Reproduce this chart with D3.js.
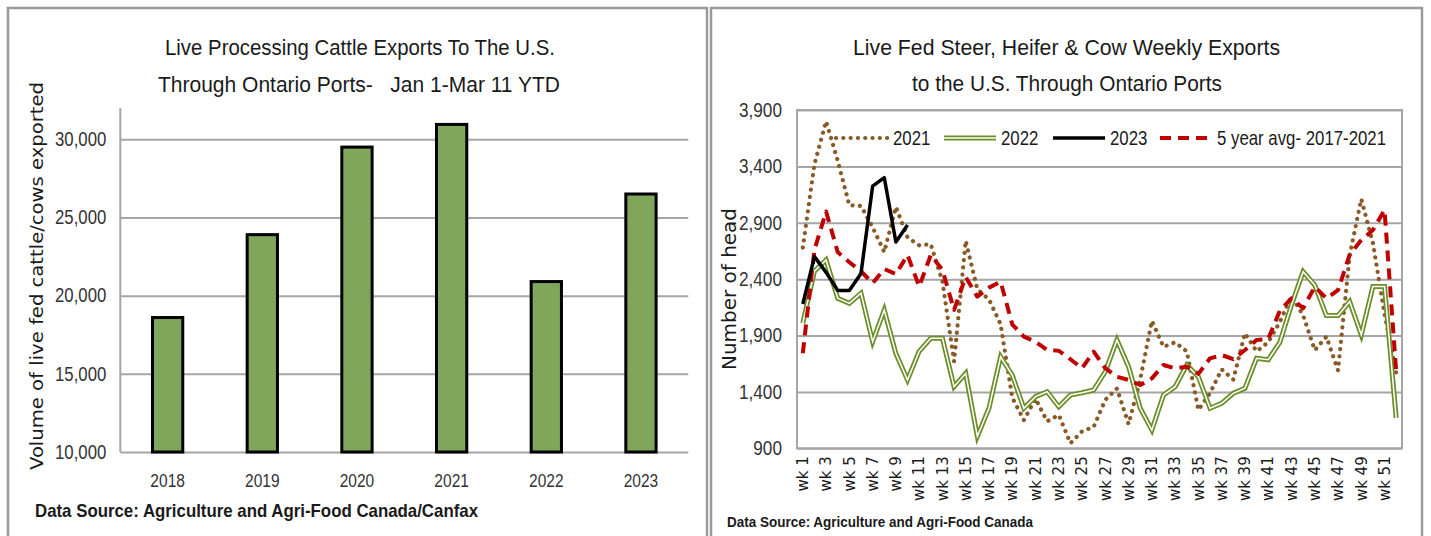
<!DOCTYPE html>
<html><head><meta charset="utf-8">
<script src="https://cdn.jsdelivr.net/npm/d3@7"></script>
<style>
html,body{margin:0;padding:0;background:#fff;}
svg{display:block;}
.sans{font-family:"Liberation Sans",Arial,sans-serif;}
.dv{font-family:"DejaVu Sans",sans-serif;}
</style></head>
<body>
<svg id="c" width="1431" height="536"></svg>
<script>
// ---------- DATA ----------
const barYears = ["2018","2019","2020","2021","2022","2023"];
const barValues = [18600, 23900, 29500, 30950, 20900, 26500];
const barTicks = [10000, 15000, 20000, 25000, 30000];

const weeks = d3.range(1, 53).map(i => "wk " + i);
const weekLabels = weeks.filter((w, i) => i % 2 === 0);
const lineTicks = [900, 1400, 1900, 2400, 2900, 3400, 3900];

const s2021 = [2680,3420,3800,3450,3055,3050,2860,2640,3040,2770,2700,2710,2380,1670,2740,2310,2220,2000,1350,1150,
               1340,1140,1195,945,1050,1090,1330,1430,1115,1510,2030,1800,1840,1760,1240,1390,1600,1510,1920,1760,
               1840,2020,2250,2080,1770,1890,1590,2610,3110,2720,2090,1570];
const s2022 = [2010,2470,2570,2230,2185,2275,1845,2126,1740,1506,1760,1875,1875,1446,1565,1005,1255,1712,1550,1255,
               1358,1402,1269,1373,1393,1417,1580,1860,1624,1255,1062,1373,1446,1639,1535,1255,1299,1388,1432,1698,
               1685,1840,2170,2466,2348,2077,2077,2201,1906,2334,2334,1168];
const s2023 = [2180,2600,2460,2300,2300,2450,3225,3300,2730,2880];
const sAvg  = [1743,2660,3000,2640,2550,2470,2365,2490,2445,2614,2335,2614,2481,2127,2420,2245,2325,2378,2000,1890,
               1845,1772,1765,1690,1610,1757,1610,1535,1506,1461,1520,1639,1609,1624,1560,1698,1727,1690,1772,1860,
               1870,2120,2230,2141,2333,2230,2303,2615,2747,2835,3013,1580];

const seriesNames = ["2021","2022","2023","5 year avg- 2017-2021"];

// ---------- SETUP ----------
const svg = d3.select("#c");
const gridCol = "#a6a6a6";
const txtCol = "#1a1a1a";
const SX = 0.86; // horizontal condense for Calibri-like look

function fit(sel, w) { return sel.attr("textLength", w).attr("lengthAdjust", "spacingAndGlyphs"); }

// panels
svg.append("rect").attr("x",8).attr("y",8).attr("width",699).attr("height",545)
  .attr("fill","#fff").attr("stroke","#9a9a9a").attr("stroke-width",2.5);
svg.append("rect").attr("x",711).attr("y",8).attr("width",711).attr("height",545)
  .attr("fill","#fff").attr("stroke","#9a9a9a").attr("stroke-width",2.5);

// ---------- LEFT BAR CHART ----------
const L = {x0:120.3, x1:688.3, y0:452, y1:108};
const xb = d3.scaleBand().domain(barYears).range([L.x0, L.x1]).padding(0);
const yb = d3.scaleLinear().domain([10000, 32000]).range([L.y0, L.y1]);

const gl = svg.append("g");
gl.append("g").attr("transform",`translate(${L.x0},0)`)
  .call(d3.axisLeft(yb).tickValues(barTicks).tickSize(-(L.x1-L.x0)).tickFormat(""))
  .call(g => g.select(".domain").remove())
  .call(g => g.selectAll("line").attr("stroke",gridCol).attr("stroke-width",2));
gl.append("line").attr("x1",L.x0).attr("x2",L.x0).attr("y1",L.y0).attr("y2",L.y1)
  .attr("stroke",gridCol).attr("stroke-width",2);
gl.append("g").attr("transform",`translate(${L.x0-14},0)`)
  .call(d3.axisLeft(yb).tickValues(barTicks).tickSize(0).tickPadding(0).tickFormat(d3.format(",")))
  .call(g => g.select(".domain").remove())
  .call(g => g.selectAll("text").attr("class","sans").attr("font-size",19.5).attr("fill","#333")
      .attr("transform",`scale(${SX},1)`));
const bw = xb.bandwidth()*0.32;
gl.selectAll("rect.bar").data(barValues).join("rect").attr("class","bar")
  .attr("x",(d,i)=>xb(barYears[i])+xb.bandwidth()/2-bw/2)
  .attr("y",d=>yb(d)).attr("width",bw).attr("height",d=>yb(10000)-yb(d))
  .attr("fill","#7fa65b").attr("stroke","#000").attr("stroke-width",3);
gl.append("g").attr("transform",`translate(0,${L.y0+22})`)
  .call(d3.axisBottom(xb).tickSize(0).tickPadding(0))
  .call(g => g.select(".domain").remove())
  .call(g => g.selectAll("text").attr("class","sans").attr("font-size",18.5).attr("fill","#333")
      .attr("dy","0.71em").attr("transform","scale(0.84,1)"));
fit(gl.append("text").attr("class","sans").attr("x",165).attr("y",55)
  .attr("font-size",22.5).attr("fill",txtCol).text("Live Processing Cattle Exports To The U.S."), 390);
fit(gl.append("text").attr("class","sans").attr("x",158).attr("y",92)
  .attr("font-size",22.5).attr("fill",txtCol).attr("xml:space","preserve").text("Through Ontario Ports-   Jan 1-Mar 11 YTD"), 402);
fit(gl.append("text").attr("class","dv").attr("transform","translate(43,470) rotate(-90)")
  .attr("font-size",18).attr("fill",txtCol)
  .text("Volume of live fed cattle/cows exported"), 388);
fit(gl.append("text").attr("class","sans").attr("x",35).attr("y",517).attr("font-size",18.5)
  .attr("font-weight","bold").attr("fill",txtCol).text("Data Source: Agriculture and Agri-Food Canada/Canfax"), 443);

// ---------- RIGHT LINE CHART ----------
const R = {x0:797, x1:1402, y0:448.3, y1:110};
const xw = d3.scaleBand().domain(weeks).range([R.x0, R.x1]).padding(0);
const yw = d3.scaleLinear().domain([900, 3900]).range([R.y0, R.y1]);
const gr = svg.append("g");

gr.append("g").attr("transform",`translate(${R.x0},0)`)
  .call(d3.axisLeft(yw).tickValues(lineTicks).tickSize(-(R.x1-R.x0)).tickFormat(""))
  .call(g => g.select(".domain").remove())
  .call(g => g.selectAll("line").attr("stroke",gridCol).attr("stroke-width",2));
gr.append("rect").attr("x",R.x0).attr("y",R.y1).attr("width",R.x1-R.x0).attr("height",R.y0-R.y1)
  .attr("fill","none").attr("stroke",gridCol).attr("stroke-width",2);
gr.append("g").attr("transform",`translate(${R.x0-15},0)`)
  .call(d3.axisLeft(yw).tickValues(lineTicks).tickSize(0).tickPadding(0).tickFormat(d3.format(",")))
  .call(g => g.select(".domain").remove())
  .call(g => g.selectAll("text").attr("class","sans").attr("font-size",20).attr("fill","#333")
      .attr("transform",`scale(${SX},1)`));
gr.append("g").attr("transform",`translate(0,${R.y0+8})`)
  .call(d3.axisBottom(xw).tickValues(weekLabels).tickSize(0))
  .call(g => g.select(".domain").remove())
  .call(g => g.selectAll("text").attr("class","dv").attr("font-size",15).attr("fill",txtCol)
      .attr("text-anchor","end").attr("transform","rotate(-90)").attr("x",0).attr("y",0).attr("dx",0).attr("dy","0.35em"));

const cx = (d,i) => xw(weeks[i]) + xw.bandwidth()/2;
const line = d3.line().x(cx).y(d => yw(d));

const styles = {
  "2021": {stroke:"#8a5a26", width:4.2, dash:"0.1 7.2", cap:"round"},
  "avg":  {stroke:"#c00000", width:4, dash:"11 7", cap:"butt"},
  "2023": {stroke:"#000", width:3.5, dash:null, cap:"butt"}
};
function drawDouble(g, d) {
  g.append("path").attr("d",d).attr("fill","none").attr("stroke","#6b8e2a").attr("stroke-width",5).attr("stroke-linejoin","miter");
  g.append("path").attr("d",d).attr("fill","none").attr("stroke","#fff").attr("stroke-width",1.5).attr("stroke-linejoin","miter");
}
function drawStyled(g, d, s) {
  g.append("path").attr("d",d).attr("fill","none").attr("stroke",s.stroke).attr("stroke-width",s.width)
    .attr("stroke-dasharray",s.dash).attr("stroke-linecap",s.cap).attr("stroke-linejoin","round");
}
const gLines = gr.append("g");
drawStyled(gLines, line(s2021), styles["2021"]);
drawDouble(gLines, line(s2022));
drawStyled(gLines, line(sAvg), styles["avg"]);
drawStyled(gLines, line(s2023), styles["2023"]);

// legend
const leg = gr.append("g");
const legItems = [
  {name:seriesNames[0], x:836, type:"2021"},
  {name:seriesNames[1], x:944, type:"2022"},
  {name:seriesNames[2], x:1053, type:"2023"},
  {name:seriesNames[3], x:1160, type:"avg"}
];
const legY = 138;
legItems.forEach(it => {
  const d = `M${it.x},${legY}L${it.x+52},${legY}`;
  if (it.type === "2022") drawDouble(leg, d); else drawStyled(leg, d, styles[it.type]);
  leg.append("text").attr("class","sans").attr("transform",`translate(${it.x+57},${legY}) scale(0.82,1)`)
    .attr("dy","0.36em").attr("font-size",20.5).attr("fill",txtCol).text(it.name);
});

fit(gr.append("text").attr("class","sans").attr("x",853).attr("y",55)
  .attr("font-size",22.5).attr("fill",txtCol).text("Live Fed Steer, Heifer & Cow Weekly Exports"), 427);
fit(gr.append("text").attr("class","sans").attr("x",912).attr("y",91)
  .attr("font-size",22.5).attr("fill",txtCol).text("to the U.S. Through Ontario Ports"), 310);
fit(gr.append("text").attr("class","dv").attr("transform","translate(736,370) rotate(-90)")
  .attr("font-size",19).attr("fill",txtCol).text("Number of head"), 162);
fit(gr.append("text").attr("class","sans").attr("x",727).attr("y",527).attr("font-size",15)
  .attr("font-weight","bold").attr("fill",txtCol).text("Data Source: Agriculture and Agri-Food Canada"), 306);
</script>
</body></html>
